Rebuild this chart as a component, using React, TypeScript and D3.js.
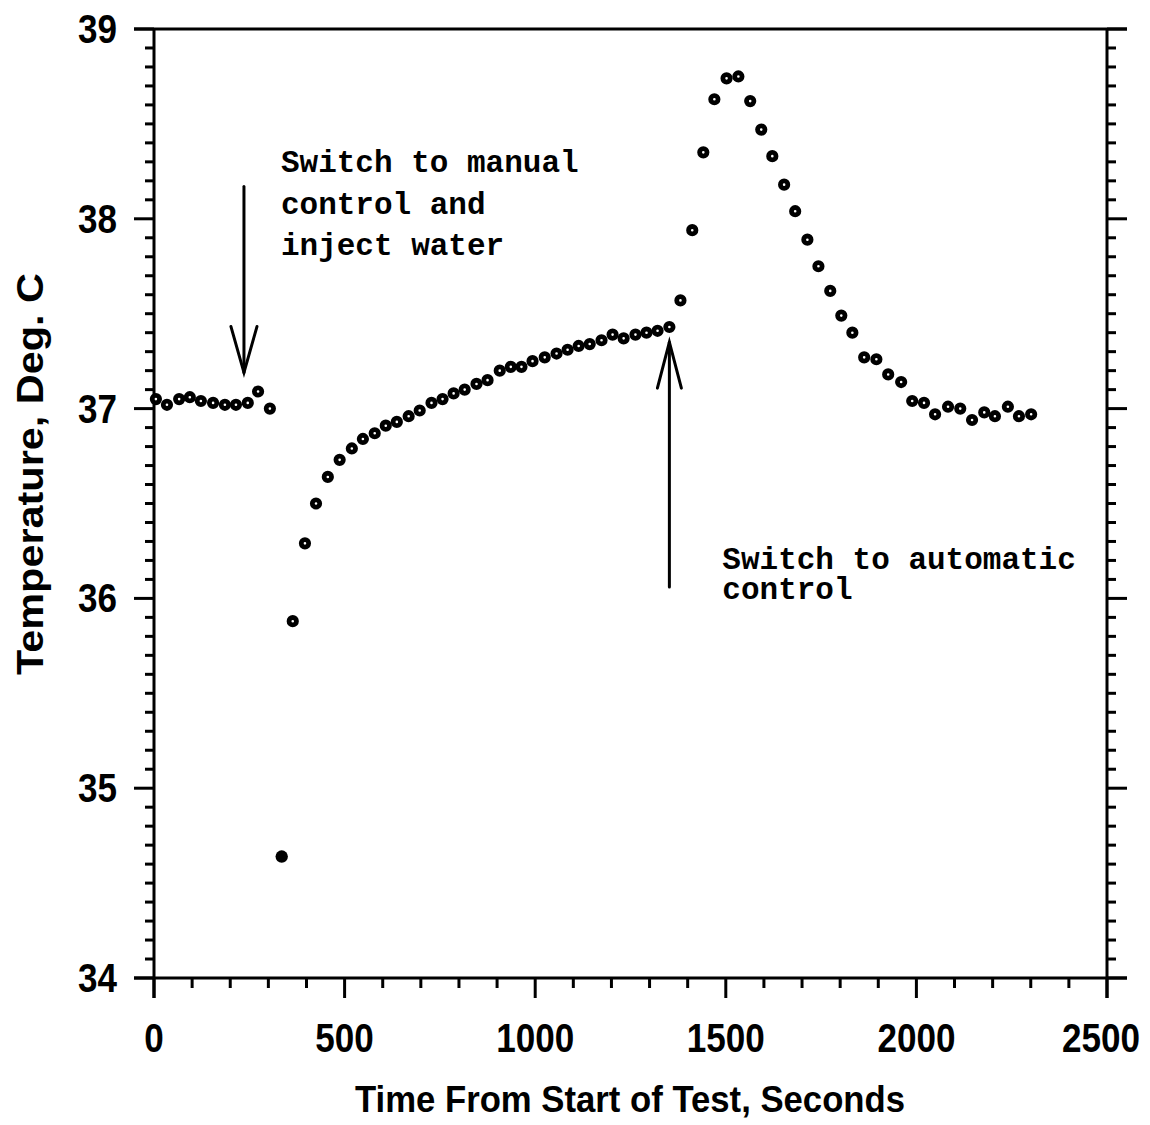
import React from "react";
import * as d3 from "d3";

const timeSec: number[] = [
  5, 34, 66, 94, 123, 155, 186, 215, 246, 273, 304,
  335, 364, 396, 425, 456, 487, 519, 548, 579, 608, 637, 668, 697, 728, 757,
  786, 815, 846, 875, 907, 936, 964, 993, 1025, 1056, 1085, 1114, 1143, 1174, 1203, 1232, 1263, 1292, 1321, 1352,
  1381, 1412, 1441, 1470, 1502, 1533, 1564, 1593, 1622, 1653, 1682, 1714, 1743, 1774, 1803, 1832, 1863, 1895,
  1926, 1960, 1989, 2020, 2049, 2083, 2115, 2146, 2178, 2206, 2240, 2269, 2301,
];

const temperature: number[] = [
  37.05, 37.02, 37.05, 37.06, 37.04, 37.03, 37.02, 37.02, 37.03, 37.09, 37.0,
  34.64, 35.88, 36.29, 36.5, 36.64, 36.73, 36.79, 36.84, 36.87, 36.91, 36.93, 36.96, 36.99, 37.03, 37.05,
  37.08, 37.1, 37.13, 37.15, 37.2, 37.22, 37.22, 37.25, 37.27, 37.29, 37.31, 37.33, 37.34, 37.36, 37.39, 37.37, 37.39, 37.4, 37.41, 37.43,
  37.57, 37.94, 38.35, 38.63, 38.74, 38.75, 38.62, 38.47, 38.33, 38.18, 38.04, 37.89, 37.75, 37.62, 37.49, 37.4, 37.27, 37.26,
  37.18, 37.14, 37.04, 37.03, 36.97, 37.01, 37.0, 36.94, 36.98, 36.96, 37.01, 36.96, 36.97,
];

const xTicks: number[] = [0, 500, 1000, 1500, 2000, 2500];
const yTicks: number[] = [34, 35, 36, 37, 38, 39];
const xMinorStep = 100;
const yMinorStep = 0.1;

const annotation1Lines: string[] = ["Switch to manual", "control and", "inject water"];
const annotation2Lines: string[] = ["Switch to automatic", "control"];
const xTitle = "Time From Start of Test, Seconds";
const yTitle = "Temperature, Deg. C";

export default function App() {
  const W = 1150;
  const H = 1125;
  const left = 154;
  const right = 1107;
  const top = 29;
  const bottom = 978;

  const x = d3.scaleLinear().domain([0, 2500]).range([left, right]);
  const y = d3.scaleLinear().domain([34, 39]).range([bottom, top]);

  const xMinor = d3.range(0, 2500 + 1, xMinorStep).filter((v) => v % 500 !== 0);
  const yMinor = d3
    .range(340, 391, yMinorStep * 10)
    .map((v) => v / 10)
    .filter((v) => Math.abs(v - Math.round(v)) > 1e-6);

  const minT = d3.min(temperature) as number;
  const sw = 3;
  const tickFont = "'Liberation Sans', Arial, sans-serif";
  const monoFont = "'Liberation Mono', 'Courier New', monospace";

  const a1x = 236;
  const a1Top = 38.17;
  const a1Tip = 37.19;
  const a2x = 1352;
  const a2Bottom = 36.06;
  const a2Tip = 37.35;

  return (
    <svg
      width={W}
      height={H}
      style={{ position: "absolute", left: 0, top: 0, background: "#fff" }}
    >
      <rect x={0} y={0} width={W} height={H} fill="#fff" />
      <g stroke="#000" strokeWidth={sw} fill="none">
        <line x1={left - 20} x2={right + 20} y1={top} y2={top} />
        <line x1={left - 20} x2={right + 20} y1={bottom} y2={bottom} />
        <line x1={left} x2={left} y1={top} y2={bottom + 20} />
        <line x1={right} x2={right} y1={top} y2={bottom + 20} />
        {yTicks.map((v) => (
          <g key={"ym" + v}>
            <line x1={left - 20} x2={left} y1={y(v)} y2={y(v)} />
            <line x1={right} x2={right + 20} y1={y(v)} y2={y(v)} />
          </g>
        ))}
        {yMinor.map((v) => (
          <g key={"yn" + v}>
            <line x1={left - 9} x2={left} y1={y(v)} y2={y(v)} />
            <line x1={right} x2={right + 9} y1={y(v)} y2={y(v)} />
          </g>
        ))}
        {xTicks.map((v) => (
          <line key={"xm" + v} x1={x(v)} x2={x(v)} y1={bottom} y2={bottom + 20} />
        ))}
        {xMinor.map((v) => (
          <line key={"xn" + v} x1={x(v)} x2={x(v)} y1={bottom} y2={bottom + 10} />
        ))}
      </g>

      <g fontFamily={tickFont} fontWeight="bold" fontSize={40} fill="#000">
        {xTicks.map((v) => {
          const s = String(v);
          const w = s.length * 19.5;
          const cx = Math.min(x(v), W - 10 - w / 2);
          return (
            <text
              key={"xl" + v}
              x={cx - w / 2}
              y={bottom + 74}
              textLength={w}
              lengthAdjust="spacingAndGlyphs"
            >
              {s}
            </text>
          );
        })}
        {yTicks.map((v) => {
          const s = String(v);
          const w = s.length * 19.5;
          return (
            <text
              key={"yl" + v}
              x={117 - w}
              y={y(v) + 14}
              textLength={w}
              lengthAdjust="spacingAndGlyphs"
            >
              {s}
            </text>
          );
        })}
      </g>

      <text
        x={355}
        y={1112}
        fontFamily={tickFont}
        fontWeight="bold"
        fontSize={37}
        textLength={550}
        lengthAdjust="spacingAndGlyphs"
      >
        {xTitle}
      </text>
      <text
        transform="translate(43,675) rotate(-90)"
        x={0}
        y={0}
        fontFamily={tickFont}
        fontWeight="bold"
        fontSize={37}
        textLength={402}
        lengthAdjust="spacingAndGlyphs"
      >
        {yTitle}
      </text>

      <g>
        {timeSec.map((t, i) =>
          temperature[i] === minT ? (
            <circle key={i} cx={x(t)} cy={y(temperature[i])} r={6.2} fill="#000" />
          ) : (
            <circle
              key={i}
              cx={x(t)}
              cy={y(temperature[i])}
              r={3.7}
              fill="#fff"
              stroke="#000"
              strokeWidth={4.8}
            />
          )
        )}
      </g>

      <g stroke="#000" strokeWidth={3} fill="none" strokeLinecap="round">
        <line x1={x(a1x)} x2={x(a1x)} y1={y(a1Top)} y2={y(a1Tip)} />
        <polyline
          points={`${x(a1x) - 13},${y(a1Tip) - 46} ${x(a1x)},${y(a1Tip)} ${x(a1x) + 13},${y(a1Tip) - 46}`}
        />
        <line x1={x(a2x)} x2={x(a2x)} y1={y(a2Bottom)} y2={y(a2Tip)} />
        <polyline
          points={`${x(a2x) - 12},${y(a2Tip) + 46} ${x(a2x)},${y(a2Tip)} ${x(a2x) + 12},${y(a2Tip) + 46}`}
        />
      </g>

      <g fontFamily={monoFont} fontWeight="bold" fontSize={31} fill="#000">
        {annotation1Lines.map((s, i) => (
          <text key={"a1" + i} x={x(333)} y={172 + i * 41.5}>
            {s}
          </text>
        ))}
        {annotation2Lines.map((s, i) => (
          <text key={"a2" + i} x={x(1491)} y={569 + i * 30}>
            {s}
          </text>
        ))}
      </g>
    </svg>
  );
}
